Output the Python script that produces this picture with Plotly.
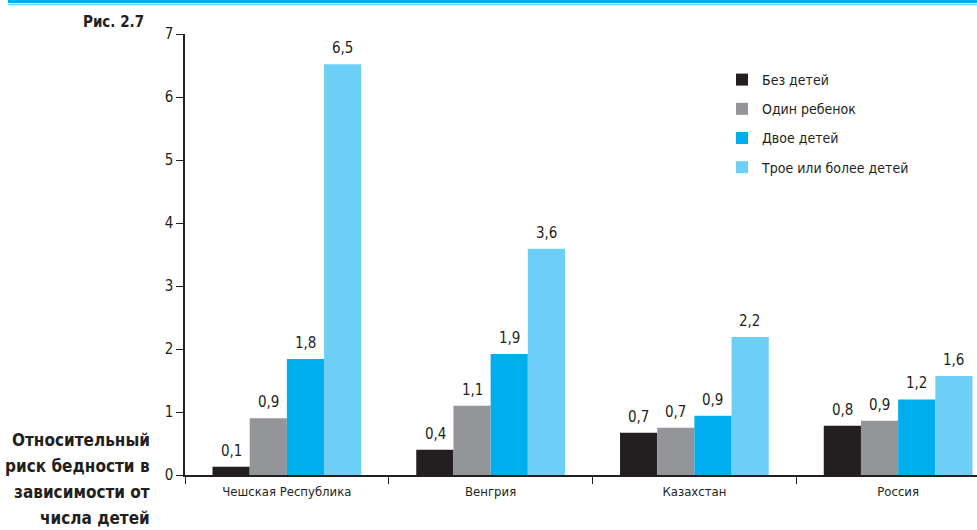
import plotly.graph_objects as go

countries = ["Чешская Республика", "Венгрия", "Казахстан", "Россия"]
series_names = ["Без детей", "Один ребенок", "Двое детей", "Трое или более детей"]
no_children = [0.13, 0.40, 0.67, 0.78]
one_child = [0.90, 1.10, 0.75, 0.86]
two_children = [1.84, 1.92, 0.94, 1.20]
three_plus = [6.52, 3.59, 2.19, 1.57]
labels_no = ["0,1", "0,4", "0,7", "0,8"]
labels_one = ["0,9", "1,1", "0,7", "0,9"]
labels_two = ["1,8", "1,9", "0,9", "1,2"]
labels_three = ["6,5", "3,6", "2,2", "1,6"]
y_ticks = [0, 1, 2, 3, 4, 5, 6, 7]
side_title = ["Относительный", "риск бедности в", "зависимости от", "числа детей"]

colors = ["#231f20", "#939598", "#00aeef", "#6dcff6"]
FONT = "DejaVu Sans Condensed, Liberation Sans, sans-serif"
DARK = "#231f20"

all_vals = [no_children, one_child, two_children, three_plus]
all_labs = [labels_no, labels_one, labels_two, labels_three]

fig = go.Figure()
for name, vals, col in zip(series_names, all_vals, colors):
    fig.add_trace(go.Bar(
        x=countries, y=vals, name=name, marker=dict(color=col, line=dict(width=0)),
        legendgroup=name,
    ))

W, H = 977, 530
L, R, T, B = 185, 0, 34, 55
pw, ph = W - L - R, H - T - B
bar_px = 37

def px(x):
    return (x - L) / pw

def py(y):
    return (H - B - y) / ph

annotations = []
for i, (vals, labs) in enumerate(zip(all_vals, all_labs)):
    for c, v, t in zip(countries, vals, labs):
        annotations.append(dict(
            text=t, x=c, y=v, xref="x", yref="y", xshift=(i - 1.5) * bar_px,
            yshift=5, yanchor="bottom", showarrow=False,
            font=dict(family=FONT, size=15, color=DARK)))

annotations.append(dict(text="<b>Рис. 2.7</b>", xref="paper", yref="paper", x=px(146), y=py(22),
                        xanchor="right", yanchor="middle", showarrow=False,
                        font=dict(family=FONT, size=15, color=DARK)))
for k, line in enumerate(side_title):
    annotations.append(dict(text="<b>" + line + "</b>", xref="paper", yref="paper",
                            x=px(152), y=py(440 + 26 * k), xanchor="right", yanchor="middle",
                            showarrow=False, font=dict(family=FONT, size=17, color=DARK)))

fig.update_layout(
    width=W, height=H,
    margin=dict(l=L, r=R, t=T, b=B, pad=0),
    paper_bgcolor="white", plot_bgcolor="white",
    barmode="group", bargap=0.27, bargroupgap=0,
    font=dict(family=FONT, color=DARK),
    showlegend=True,
    legend=dict(x=px(722), y=py(64), xanchor="left", yanchor="top",
                font=dict(family=FONT, size=14, color=DARK),
                traceorder="grouped", tracegroupgap=8, bgcolor="rgba(0,0,0,0)"),
    xaxis=dict(range=[-0.5, 3.387], showline=True, linecolor=DARK, linewidth=1.5,
               tickson="boundaries", ticks="outside", ticklen=7, tickcolor=DARK,
               ticklabelstandoff=4,
               tickfont=dict(family=FONT, size=13, color=DARK), showgrid=False,
               fixedrange=True),
    yaxis=dict(range=[0, 7], tickvals=y_ticks, showline=True, linecolor=DARK, linewidth=1.5,
               ticks="outside", ticklen=7, tickcolor=DARK, showgrid=False, zeroline=False,
               tickfont=dict(family=FONT, size=15, color=DARK), fixedrange=True),
    shapes=[
        dict(type="line", xref="paper", yref="paper", x0=px(8), x1=px(977),
             y0=py(1.5), y1=py(1.5), line=dict(color="#00aeef", width=3)),
        dict(type="line", xref="paper", yref="paper", x0=px(8), x1=px(977),
             y0=py(4.5), y1=py(4.5), line=dict(color="#6dcff6", width=1.5)),
    ],
    annotations=annotations,
)

fig.write_html("out.html", config={"displayModeBar": False},
               post_script="document.body.style.margin='0';")
